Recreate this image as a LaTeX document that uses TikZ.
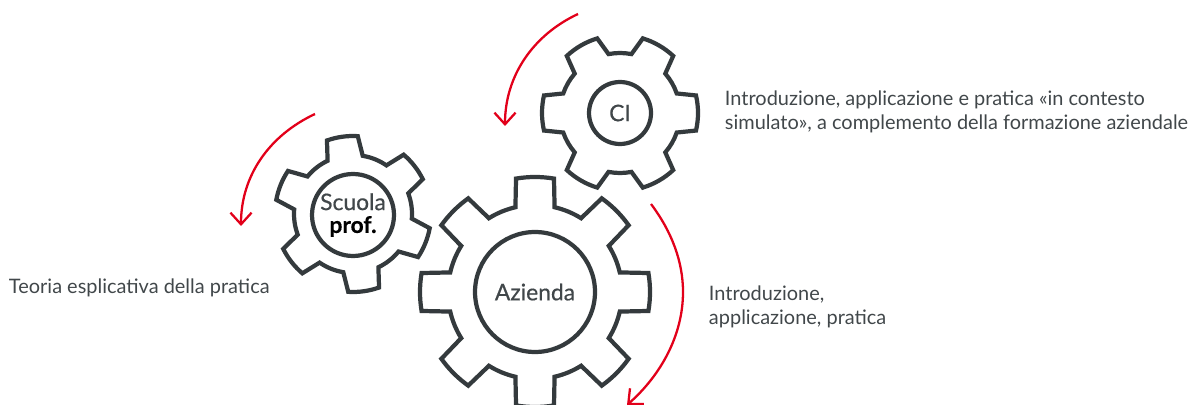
\documentclass[tikz,border=0pt]{standalone}
\usepackage{fontspec}
\setmainfont{Lato}
\newfontfamily\hubfont{Lato}[FakeBold=0.5]
\usepackage{xcolor}
\usetikzlibrary{positioning}
\usetikzlibrary{arrows.meta}
\definecolor{gear_grey}{HTML}{343A3D}
\definecolor{text_grey}{HTML}{41474A}
\definecolor{arrow_red}{HTML}{E2001A}
\tikzset{
    gear_line/.style={draw=gear_grey, line width=2.4pt},
    hub/.style={circle, draw=gear_grey, line width=2.4pt, inner sep=0pt, outer sep=0pt, align=center, text=text_grey, font=\hubfont\fontsize{13}{13}\selectfont},
    side_text/.style={inner sep=0pt, outer sep=0pt, align=left, text=text_grey, font=\fontsize{11.35}{14}\selectfont},
    turn_arrow/.style={draw=arrow_red, line width=1.3pt, -{Straight Barb[length=6.6pt, width=12pt, line width=1.3pt]}}
}
% #1 centre, #2 teeth, #3 rotation, #4 tip radius, #5 root radius, #6 tip half angle, #7 base half angle
\newcommand{\gearwheel}[7]{
    \draw[gear_line, shift={(#1)}] (#3-#7:#5)
        \foreach \k [evaluate=\k as \a using #3+(\k-1)*360/#2] in {1,...,#2} {
            -- (\a-#6:#4) arc[start angle=\a-#6, end angle=\a+#6, radius=#4]
            -- (\a+#7:#5) arc[start angle=\a+#7, end angle=\a+360/#2-#7, radius=#5]
        } -- cycle;
}
\begin{document}
\begin{tikzpicture}[x=0.02cm, y=0.02cm]
    \useasboundingbox (0,0) rectangle (1192,-405);
    \gearwheel{535,-292}{8}{90}{115}{87}{9.5}{13}
    \gearwheel{353,-214}{6}{98}{78}{59}{11.5}{17.5}
    \gearwheel{620,-113}{6}{0}{78}{60}{13}{19}
    \node[hub, minimum size=2.4cm] (azienda_hub) at (535,-292) {Azienda};
    \node[hub, minimum size=1.64cm] (scuola_hub) at (353,-215) {Scuola\\\textcolor{black}{\textbf{prof.}}};
    \node[hub, minimum size=1.24cm] (ci_hub) at (620,-113) {CI};
    \node[side_text, anchor=west] (ci_text) [right=1.48cm of ci_hub, yshift=0.02cm] {Introduzione, applicazione e pratica «in contesto\\simulato», a complemento della formazione aziendale};
    \node[side_text, anchor=west] (azienda_text) [right=2.28cm of azienda_hub, yshift=-0.3cm] {Introduzione,\\applicazione, pratica};
    \node[side_text, anchor=west] (scuola_text) at (9,-288) {Teoria esplicativa della pratica};
    \coordinate (scuola_start) at (315,-114);
    \coordinate (scuola_end) at (241,-226);
    \coordinate (ci_start) at (578,-14);
    \coordinate (ci_end) at (505,-126);
    \coordinate (azienda_start) at (651,-204);
    \coordinate (azienda_mid) at (683,-292);
    \coordinate (azienda_end) at (627,-405);
    \draw[turn_arrow] (scuola_start) .. controls (270,-135) and (241,-175) .. (scuola_end);
    \draw[turn_arrow] (ci_start) .. controls (533,-35) and (505,-76) .. (ci_end);
    \draw[turn_arrow] (azienda_start) .. controls (672,-232) and (683,-262) .. (azienda_mid) .. controls (683,-335) and (661,-375) .. (azienda_end);
\end{tikzpicture}
\end{document}
